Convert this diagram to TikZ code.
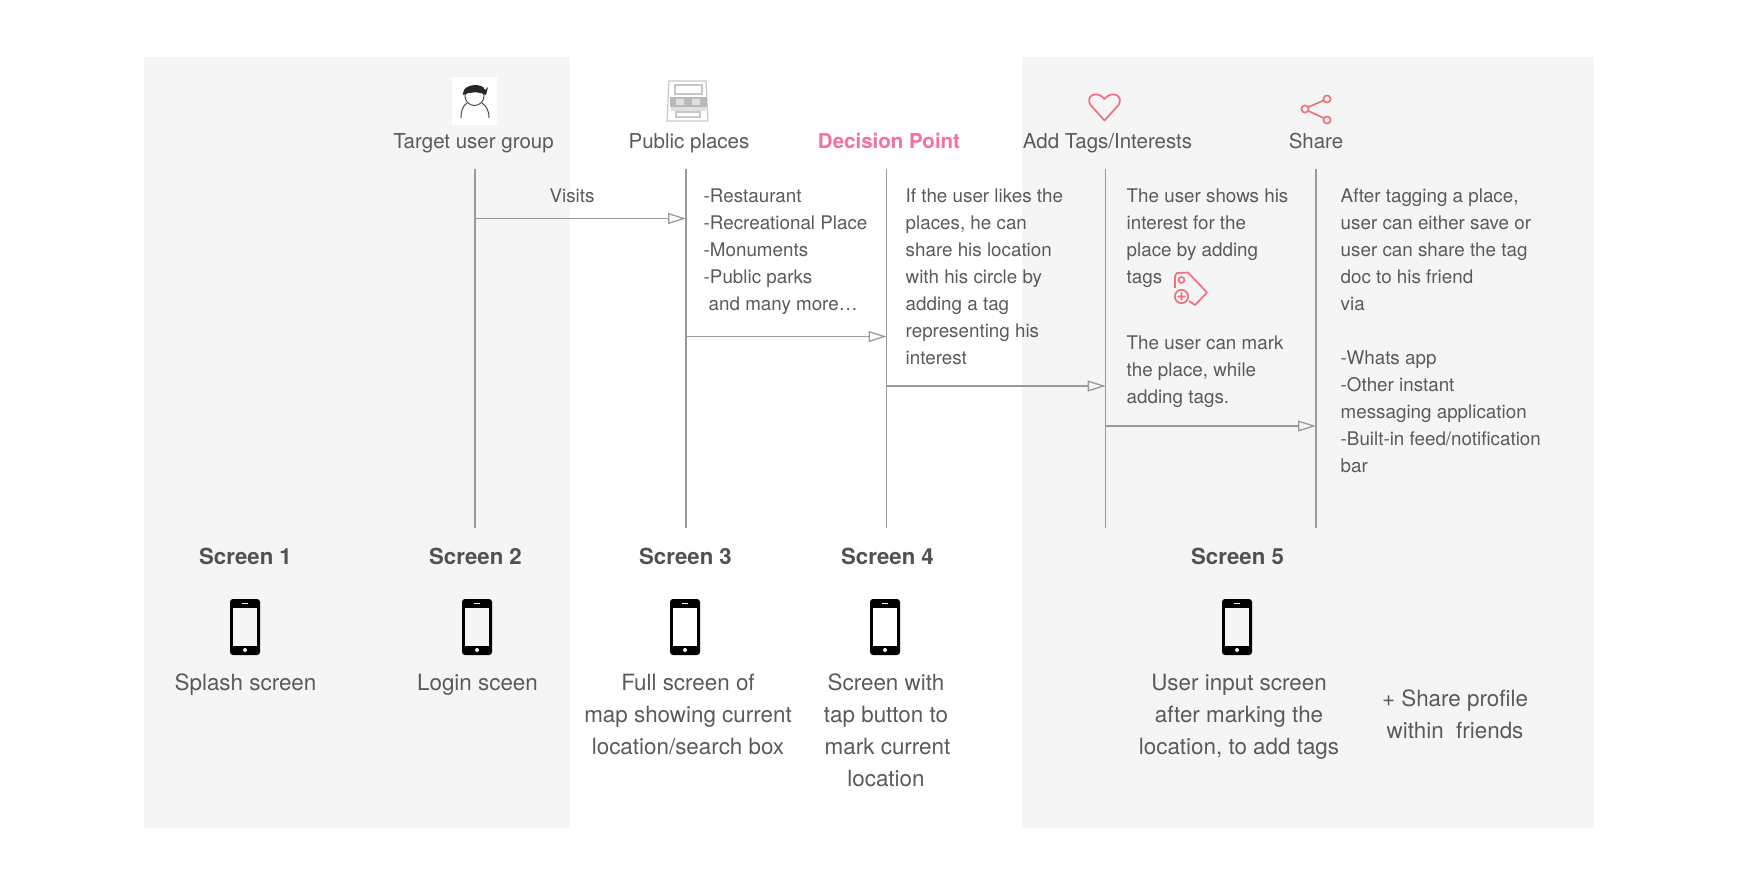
\documentclass[tikz,border=0pt]{standalone}
\usepackage{fontspec}
\setmainfont{TeX Gyre Heros}
\usetikzlibrary{arrows.meta, positioning}
\definecolor{cpanel}{HTML}{F5F5F5}
\definecolor{ctext}{HTML}{5A5A5A}
\definecolor{cline}{HTML}{9A9A9A}
\definecolor{cpink}{HTML}{F0707F}
\definecolor{cdecide}{HTML}{F76F9F}
\tikzset{
  every picture/.style={x=1pt, y=-1pt},
  panel/.style={fill=cpanel, draw=none},
  head/.style={font=\fontsize{20.5}{24}\selectfont, text=ctext, inner sep=0pt, anchor=base},
  body/.style={font=\fontsize{18.8}{27}\selectfont, text=ctext, inner sep=0pt, align=left, anchor=north west},
  screen/.style={font=\fontsize{22.2}{26}\selectfont\bfseries, text=ctext!90!black, inner sep=0pt, anchor=base},
  caption/.style={font=\fontsize{22.4}{32}\selectfont, text=ctext, inner sep=0pt, align=center, anchor=north},
  life/.style={draw=cline, line width=1.5pt},
  msg/.style={draw=cline, line width=1.5pt, -{Triangle[open, length=18pt, width=11pt, line width=1.3pt]}},
  phone/.style={fill=black, rounded corners=3pt, minimum width=30pt, minimum height=56pt, inner sep=0pt},
  icon/.style={draw=cpink, line width=1.7pt, line join=round},
  sketch/.style={draw=black!22, line width=1.2pt},
}
\begin{document}
\begin{tikzpicture}
  \useasboundingbox (0,0) rectangle (1740,882);
  % grey panels
  \fill[panel] (144,57) rectangle (570,828);
  \fill[panel] (1022,57) rectangle (1594,828);
  % column heads
  \node[head] (hTarget) at (473.5,148.5) {Target user group};
  \node[head] (hPublic) at (689,148.5) {Public places};
  \node[head, font=\fontsize{20.5}{24}\selectfont\bfseries, text=cdecide] (hDecide) at (889,148.5) {Decision Point};
  \node[head] (hTags) at (1107.5,148.5) {Add Tags/Interests};
  \node[head] (hShare) at (1316,148.5) {Share};
  % icons
  \fill[white] (452,77) rectangle (497,125);
  \draw[black!70, line width=1pt] (474.5,96) circle (9.5);
  \fill[black!85] (463,93) .. controls (464,83) and (484,83) .. (485,90) -- (488,87) -- (486,95) .. controls (478,91) and (470,92) .. (463,95) -- cycle;
  \draw[black!70, line width=1pt] (461,118) .. controls (461,110) and (463,106) .. (467,103);
  \draw[black!70, line width=1pt] (489,118) .. controls (489,110) and (486,106) .. (482,103);
  \draw[sketch] (669,81) -- (706,81) -- (708,121) -- (667,121) -- cycle;
  \draw[sketch] (675,85) rectangle (702,94);
  \fill[black!28] (670,97) rectangle (707,107);
  \fill[black!12] (676,99) rectangle (684,105) (692,99) rectangle (700,105);
  \fill[black!12] (671,107) rectangle (706,111);
  \draw[sketch] (676,112) rectangle (700,117);
  \draw[icon] (1104.5,120.5) -- (1090.5,105) .. controls (1085,97) and (1096,89) .. (1104.5,99) .. controls (1113,89) and (1124,97) .. (1118.5,105) -- cycle;
  \draw[icon] (1308.5,107) -- (1323.5,100.5) (1308.5,111) -- (1323.5,118);
  \draw[icon] (1327,99) circle (3.6) (1305,109) circle (3.6) (1327,120) circle (3.6);
  \draw[icon] (1175,288) -- (1175,276) -- (1177,273) -- (1188,272.5) -- (1207,292.5) -- (1195,305) -- (1189,301);
  \draw[icon] (1181.5,280) circle (3) (1181.5,296.5) circle (6.7) (1177.5,296.5) -- (1185.5,296.5) (1181.5,292.5) -- (1181.5,300.5);
  % lifelines
  \foreach \name/\xpos in {lA/475, lB/686, lC/886.5, lD/1105.7, lE/1316} {
    \coordinate (\name top) at (\xpos,169);
    \coordinate (\name bot) at (\xpos,528);
    \draw[life] (\name top) -- (\name bot);
  }
  % messages
  \coordinate (visitFrom) at (475,218.5); \coordinate (visitTo) at (686,218.5);
  \coordinate (placeFrom) at (686,336.5); \coordinate (placeTo) at (886.5,336.5);
  \coordinate (decideFrom) at (886.5,386); \coordinate (decideTo) at (1105.7,386);
  \coordinate (tagFrom) at (1105.7,426); \coordinate (tagTo) at (1316,426);
  \draw[msg] (visitFrom) -- (visitTo);
  \draw[msg] (placeFrom) -- (placeTo);
  \draw[msg] (decideFrom) -- (decideTo);
  \draw[msg] (tagFrom) -- (tagTo);
  \node[body, anchor=center] (visits) at (572,196) {Visits};
  % notes beside the lifelines
  \node[body] (nPublic) at (703.5,189) {-Restaurant\\-Recreational Place\\-Monuments\\-Public parks\\\hspace{5pt}and many more…};
  \node[body] (nDecide) at (905.5,189) {If the user likes the\\places, he can\\share his location\\with his circle by\\adding a tag\\representing his\\interest};
  \node[body] (nTags) at (1126.5,189) {The user shows his\\interest for the\\place by adding\\tags};
  \node[body] (nMark) at (1126.5,336) {The user can mark\\the place, while\\adding tags.};
  \node[body] (nShare) at (1340.5,189) {After tagging a place,\\user can either save or\\user can share the tag\\doc to his friend\\via\\[27pt]-Whats app\\-Other instant\\messaging application\\-Built-in feed/notification\\bar};
  % screens
  \foreach \name/\xpos/\label in {sA/245.5/Screen 1, sB/475.5/Screen 2, sC/685.5/Screen 3, sD/887.5/Screen 4, sE/1237.5/Screen 5} {
    \node[screen] (\name) at (\xpos,564.5) {\label};
  }
  \foreach \name/\xpos/\inside in {sA/245/cpanel, sB/477/cpanel, sC/685/white, sD/885/white, sE/1237/cpanel} {
    \node[phone] (\name phone) at (\xpos,627) {};
    \fill[\inside] (\xpos-11.7,608.3) rectangle (\xpos+11.7,645.7);
    \fill[\inside] (\xpos,650) circle (2);
    \fill[\inside] (\xpos-3,603) rectangle (\xpos+3,604);
  }
  \node[caption] (cA) at (245.5,673.5) {Splash screen};
  \node[caption] (cB) at (477.5,673.5) {Login sceen};
  \node[caption] (cC) at (688,673.5) {Full screen of\\map showing current\\location/search box};
  \node[caption] (cD) at (886,673.5) {Screen with\\tap button to\\\hspace{3pt}mark current\\location};
  \node[caption] (cE) at (1239,673.5) {User input screen\\after marking the\\location, to add tags};
  \node[caption] (cF) at (1455,689.5) {+ Share profile\\within~ friends};
\end{tikzpicture}
\end{document}
